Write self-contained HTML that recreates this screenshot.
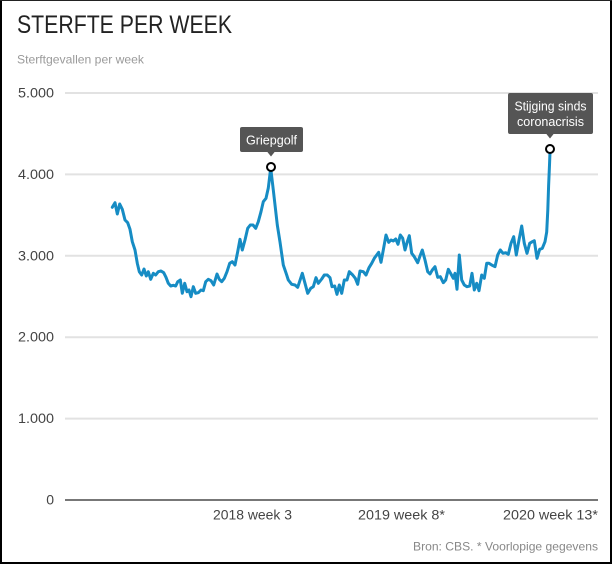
<!DOCTYPE html>
<html>
<head>
<meta charset="utf-8">
<style>
  html, body { margin: 0; padding: 0; background: #fff; }
  body { width: 612px; height: 564px; overflow: hidden; }
  svg { display: block; font-family: "Liberation Sans", sans-serif; }
</style>
</head>
<body>
<svg width="612" height="564" viewBox="0 0 612 564" xmlns="http://www.w3.org/2000/svg">
  <rect x="0" y="0" width="612" height="564" fill="#fff"/>
  <!-- border -->
  <rect x="0" y="0" width="2" height="564" fill="#000"/>
  <rect x="610" y="0" width="2" height="564" fill="#000"/>
  <rect x="0" y="562" width="612" height="2" fill="#000"/>
  <rect x="0" y="0" width="612" height="1" fill="#222"/>

  <!-- title -->
  <text x="17" y="33" font-size="25" fill="#222" textLength="215" lengthAdjust="spacingAndGlyphs">STERFTE PER WEEK</text>
  <text x="17" y="63.5" font-size="12" fill="#9a9a9a" textLength="127" lengthAdjust="spacingAndGlyphs">Sterftgevallen per week</text>

  <!-- gridlines -->
  <g stroke="#e2e2e2" stroke-width="2">
    <line x1="65" y1="93" x2="598" y2="93"/>
    <line x1="65" y1="174.4" x2="598" y2="174.4"/>
    <line x1="65" y1="255.8" x2="598" y2="255.8"/>
    <line x1="65" y1="337.2" x2="598" y2="337.2"/>
    <line x1="65" y1="418.6" x2="598" y2="418.6"/>
  </g>
  <line x1="65" y1="500" x2="598" y2="500" stroke="#777" stroke-width="2"/>

  <!-- y labels -->
  <g font-size="14" fill="#444" text-anchor="end">
    <text x="54" y="97.5" textLength="36" lengthAdjust="spacingAndGlyphs">5.000</text>
    <text x="54" y="179" textLength="36" lengthAdjust="spacingAndGlyphs">4.000</text>
    <text x="54" y="260.3" textLength="36" lengthAdjust="spacingAndGlyphs">3.000</text>
    <text x="54" y="341.7" textLength="36" lengthAdjust="spacingAndGlyphs">2.000</text>
    <text x="54" y="423.1" textLength="36" lengthAdjust="spacingAndGlyphs">1.000</text>
    <text x="54" y="504.5">0</text>
  </g>

  <!-- x labels -->
  <g font-size="14" fill="#444">
    <text x="213" y="519.5" textLength="79" lengthAdjust="spacingAndGlyphs">2018 week 3</text>
    <text x="358" y="519.5" textLength="87" lengthAdjust="spacingAndGlyphs">2019 week 8*</text>
    <text x="503" y="519.5" textLength="95" lengthAdjust="spacingAndGlyphs">2020 week 13*</text>
  </g>
  <text x="413" y="550.5" font-size="12" fill="#888" textLength="185" lengthAdjust="spacingAndGlyphs">Bron: CBS. * Voorlopige gegevens</text>

  <!-- data line -->
  <polyline fill="none" stroke="#168cc4" stroke-width="3" stroke-linejoin="round" stroke-linecap="round" points="
112.3,207.3 115,202.7 117.3,214 119.7,204 122.3,209.3 125,220 127.7,222.7 130,229.3 132.3,241.7 135,250
137.3,263.3 139.3,271.7 141.7,275 144,269 146.3,276 148.3,271.7 150.7,279.3 153.3,273.3 155.7,275 158.3,271.7
161,271 163.7,272.7 166,277.3 168.3,283.3 170.7,286 173.3,285.3 175.7,286 177.7,281.7 180.3,280 182.3,293.3
184.7,283.3 187,291.7 189,290 191,296.7 193.3,286.7 195.7,293.3 198.3,292.7 201,290 203.3,290.7 205.7,281.7
208.3,279.3 211,280.7 213.7,285 217,274 219.3,279.3 221.7,281.7 224.3,278.3 227,271.7 229.7,263.3 232.3,261.7
235,265 237.7,251.7 240,239.3 242.3,250 245,240 247.7,228.3 250.3,225 253,225 255.7,228.3 258.3,221.7
261,211.7 263.3,201.7 266,198.3 268.3,188 270.7,168
273.3,190 277.3,225 280,242 283.3,265 286.7,275 288.3,280 291.7,284.3 295,285 297.7,287.3 302.3,273.3
307.7,293.3 310.7,288.3 313.3,286.7 316,277.7 318.3,283.3 321.7,279 324.3,275 327.3,275 330,277.7 332,286.7
334.7,286 337,294.3 339.3,285 341.7,293.3 344.3,280 347,280 349.3,271.7 352.7,275 355.3,278.3 357.7,284.3
360,271 363.3,271.7 366,275 369,267.7 371.7,263.3 374.3,258.3 376.7,255 378.7,252.3 381,262.3 383.3,250
386,235 388.7,242.3 391,240 393.3,241 395.7,239 398,244.3 400.3,235 402.7,238.3 405,250 407.3,241.7
409.3,235.7 411.7,253.3 414.3,256.7 417.7,262.7 420,256 422.3,250 425,260 427.7,271.7 430,274 432.3,270
435,266.7 437.7,277.3 440.3,276.7 443.3,282.7 445.7,280 448.3,269.3 451,274 453.3,278.3 455,273.3 457,289.3
459.3,255 461.7,280 464.3,285 467,286.7 469.7,286 472,273.3 474.3,290 476.7,283.3 479,290.7 481.7,275
484.3,278.3 486.7,263.3 489,263.3 491.7,265 495,266.7 497.7,255 500.3,250 503,253.3 505.7,252.7 508.3,254.3
511,243.3 513.7,236.7 516.3,255 519,240 521.7,226 524.3,243.3 527,253.3 529.7,243.3 532.3,241.7 534.3,240.7
537,258.3 539.7,249.3 542.3,248.3 545,241.7 546.7,232 547.8,210 548.6,186 549.5,165 550,152"/>

  <!-- annotation 1 -->
  <rect x="240" y="127" width="63" height="25" rx="2" fill="#555"/>
  <polygon points="267,151.5 275,151.5 271,156.5" fill="#555"/>
  <text x="271.5" y="144.5" font-size="13" fill="#fff" text-anchor="middle" textLength="51" lengthAdjust="spacingAndGlyphs">Griepgolf</text>
  <circle cx="271" cy="167" r="4" fill="#fff" stroke="#000" stroke-width="2"/>

  <!-- annotation 2 -->
  <rect x="508" y="93" width="85" height="41" rx="2" fill="#555"/>
  <polygon points="546,133.5 554,133.5 550,138.5" fill="#555"/>
  <text x="550.5" y="110.5" font-size="13" fill="#fff" text-anchor="middle" textLength="72" lengthAdjust="spacingAndGlyphs">Stijging sinds</text>
  <text x="550.5" y="126" font-size="13" fill="#fff" text-anchor="middle" textLength="67" lengthAdjust="spacingAndGlyphs">coronacrisis</text>
  <circle cx="550" cy="149" r="4" fill="#fff" stroke="#000" stroke-width="2"/>
</svg>
</body>
</html>
